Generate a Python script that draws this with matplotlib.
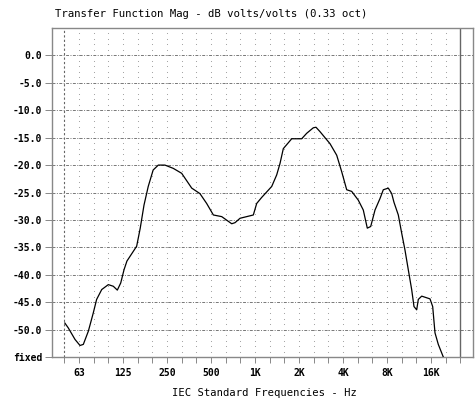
import numpy as np
import matplotlib
matplotlib.use("Agg")
import matplotlib.pyplot as plt

freq_hz = [50, 52.8, 58.7, 63.5, 66.9, 72.4, 78.2, 82.5, 89.4, 99.2,
           107.3, 114.3, 120.6, 127, 133, 144, 155, 164, 174, 186,
           201, 218, 242, 276, 315, 369, 420, 467, 519, 592,
           693, 730, 790, 974, 1027, 1111, 1301, 1407, 1483, 1562,
           1783, 2087, 2258, 2505, 2614, 2784, 3260, 3622, 3918, 4240,
           4588, 5091, 5507, 5865, 6189, 6622, 7164, 7547, 8166, 8614,
           8932, 9560, 10080, 10620, 11190, 11800, 12240, 12770, 13100, 13820,
           15750, 16430, 17040, 17950, 19420]
level_db = [-48.8, -49.7, -51.8, -52.9, -52.7, -50.3, -47.0, -44.5, -42.7, -41.8,
            -42.1, -42.8, -41.5, -39.1, -37.5, -36.1, -34.8, -31.5, -27.3, -23.9,
            -20.9, -20.0, -20.0, -20.6, -21.5, -24.2, -25.2, -27.0, -29.1, -29.4,
            -30.7, -30.5, -29.7, -29.1, -27.0, -25.9, -23.9, -21.8, -19.7, -17.0,
            -15.2, -15.2, -14.2, -13.2, -13.1, -13.9, -16.1, -18.2, -21.2, -24.5,
            -24.8, -26.4, -28.2, -31.5, -31.2, -28.2, -26.1, -24.5, -24.2, -25.2,
            -26.8, -29.1, -32.4, -35.5, -39.1, -42.7, -45.8, -46.4, -44.5, -43.9,
            -44.4, -45.8, -50.6, -52.7, -55.0]

octave_labels = ["63", "125", "250", "500", "1K", "2K", "4K", "8K", "16K"]
db_ticks = [0, -5, -10, -15, -20, -25, -30, -35, -40, -45, -50, -55]
db_labels = ["0.0", "-5.0", "-10.0", "-15.0", "-20.0", "-25.0", "-30.0",
             "-35.0", "-40.0", "-45.0", "-50.0", "fixed"]

mono = "DejaVu Sans Mono"
grey = "#888888"

fig = plt.figure(figsize=(4.77, 4.0), dpi=100)
ax = fig.add_axes([52 / 477, 43 / 400, 421 / 477, 329 / 400])

# third-octave centres, 50 Hz .. 25 kHz (base-2 IEC)
thirds = 1000 * 2.0 ** (np.arange(-13, 15) / 3)
octaves = 1000 * 2.0 ** np.arange(-4, 5)

ax.set_xscale("log")
ax.set_xlim(1000 * 2 ** (-203 / 44), 1000 * 2 ** (218 / 44))
ax.set_ylim(-55, 5)

# dot grid: third-octave columns, 1 dB rows
gx, gy = np.meshgrid(thirds[1:-1], np.arange(-54, 5))
ax.scatter(gx.ravel(), gy.ravel(), s=0.6, color="#999999", linewidths=0, zorder=1)

# dash-dot lines every 5 dB
for d in db_ticks[:-1]:
    ax.axhline(d, color="#777777", lw=0.7, dashes=(3, 1.5, 1, 1.5), zorder=1)

# band edges
ax.axvline(thirds[0], color="#666666", lw=0.8, dashes=(2, 2), zorder=1)
ax.axvline(thirds[-1], color="#666666", lw=1.0, zorder=1)

ax.plot(freq_hz, level_db, color="black", lw=0.9, zorder=3)

ax.set_xticks(thirds, minor=True)
ax.xaxis.set_minor_formatter(plt.NullFormatter())
ax.set_xticks(octaves)
ax.set_xticklabels(octave_labels, fontfamily=mono, fontsize=7, fontweight="bold")
ax.tick_params(axis="x", which="both", direction="out", length=4, width=0.7,
               color=grey, pad=4)
ax.set_yticks(db_ticks)
ax.set_yticklabels(db_labels, fontfamily=mono, fontsize=7, fontweight="bold")
ax.tick_params(axis="y", direction="out", length=5, width=0.7, color=grey, pad=2)
ax.yaxis.set_minor_locator(plt.NullLocator())

for s in ax.spines.values():
    s.set_color(grey)
    s.set_linewidth(1.0)

fig.text(264 / 477, 1 - 393 / 400, "IEC Standard Frequencies - Hz",
         fontfamily=mono, fontsize=7.6, va="center", ha="center")
fig.text(55 / 477, 1 - 14 / 400, "Transfer Function Mag - dB volts/volts (0.33 oct)",
         fontfamily=mono, fontsize=7.7, va="center", ha="left")

fig.savefig("out.png", dpi=100)
